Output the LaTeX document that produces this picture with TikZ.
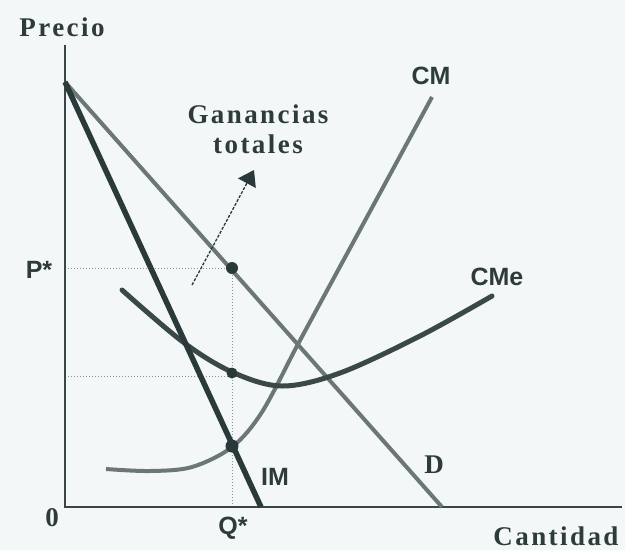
\documentclass[tikz,border=0pt]{standalone}
\usepackage{fontspec}
\setmainfont{Liberation Serif}
\newfontfamily\serifsp[LetterSpace=9]{Liberation Serif}
\newfontfamily\sanslbl{Liberation Sans}
\usetikzlibrary{arrows.meta}
\definecolor{bgc}{HTML}{F4F7F8}
\definecolor{txt}{HTML}{2E3B3B}
\definecolor{imc}{HTML}{2A3A3A}
\definecolor{cmec}{HTML}{3A4848}
\definecolor{graycurve}{HTML}{6B7676}
\definecolor{axc}{HTML}{3A4545}
\definecolor{dotln}{HTML}{8A9494}
\tikzset{
  seriflbl/.style={font=\serifsp\bfseries\fontsize{27}{30}\selectfont, text=txt, inner sep=0pt},
  sanslabel/.style={font=\sanslbl\bfseries\fontsize{25}{30}\selectfont, text=txt, inner sep=0pt},
  axisline/.style={draw=axc, line width=1.5pt},
  guide/.style={draw=dotln, line width=1pt, dotted},
  imline/.style={draw=imc, line width=5.5pt},
  cmeline/.style={draw=cmec, line width=5pt, line cap=round},
  grayline/.style={draw=graycurve, line width=4pt},
  ptdot/.style={fill=imc},
  arrowline/.style={draw=imc, line width=1.3pt, dash pattern=on 3pt off 1.5pt, -{Triangle[length=15pt,width=20pt]}}
}
\begin{document}
\begin{tikzpicture}[x=1pt,y=-1pt]
\fill[bgc] (0,0) rectangle (625,550);
\useasboundingbox (0,0) rectangle (625,550);

\coordinate (O) at (65,507);
\coordinate (Ytop) at (65,45);
\coordinate (Xend) at (622,507);
\coordinate (A) at (65,82);
\coordinate (Dend) at (442,507);
\coordinate (IMend) at (261,507);
\coordinate (Pleft) at (65,268);
\coordinate (Pd) at (232,268);
\coordinate (Cleft) at (65,376);
\coordinate (Cd) at (232,373);
\coordinate (Qb) at (232,507);
\coordinate (Id) at (232,446);
\coordinate (arrS) at (192,285);
\coordinate (arrE) at (254,170);

% guides
\draw[guide] (Pleft) -- (Pd) -- (Qb);
\draw[guide] (Cleft) -- (232,376);

% axes
\draw[axisline] (Ytop) -- (O) -- (Xend);

% demand
\draw[grayline] (A) -- (Dend);
% CM
\draw[grayline] plot[smooth, tension=0.55] coordinates {(106,469) (150,471) (192,467) (232,447) (262,412) (297,346) (330,285) (380,193) (432,97)};
% CMe
\draw[cmeline] plot[smooth, tension=0.55] coordinates {(122,290) (183,342) (232,372) (282,386) (340,373) (420,336) (492,296)};
% IM
\draw[imline] (A) -- (IMend);

% points
\fill[ptdot] (Pd) circle (6pt);
\fill[ptdot] (Cd) circle (5.5pt);
\fill[ptdot] (Id) circle (6.5pt);

% arrow
\draw[arrowline] (arrS) -- (arrE);

% labels
\node[seriflbl] (precio) at (62,27) {Precio};
\node[seriflbl] (cantidad) at (556,536) {Cantidad};
\node[seriflbl, align=center] (gan) at (258,129) {Ganancias\\totales};
\node[seriflbl] (zero) at (52,518) {0};
\node[seriflbl] (dl) at (434,465) {D};
\node[sanslabel] (pstar) at (39,270) {P*};
\node[sanslabel] (qstar) at (233,528) {Q*};
\node[sanslabel] (iml) at (275,477) {IM};
\node[sanslabel] (cml) at (431,76) {CM};
\node[sanslabel] (cmel) at (497,277) {CMe};
\end{tikzpicture}
\end{document}
